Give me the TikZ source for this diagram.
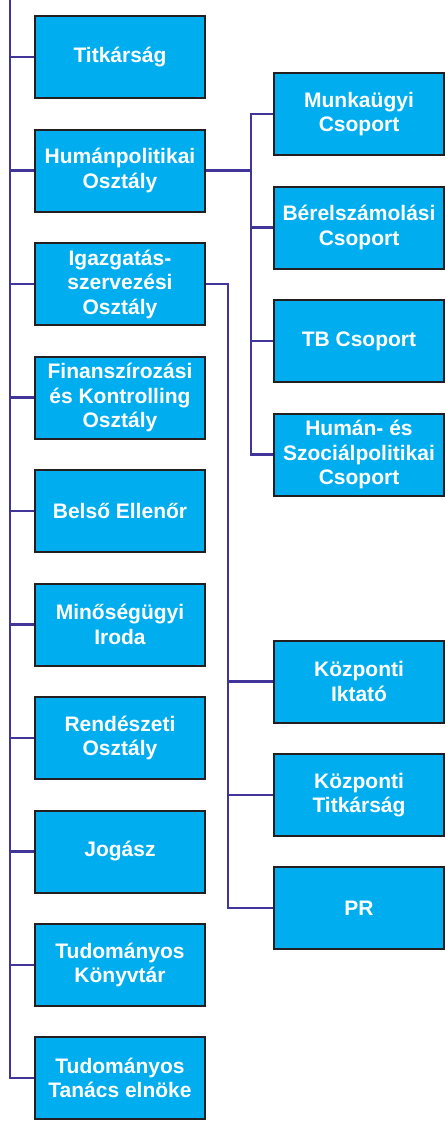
\documentclass[tikz,border=0pt]{standalone}
\usepackage{fontspec}
\setmainfont{Liberation Sans}
\usepackage{xcolor}
\usepackage{tikz}
\usetikzlibrary{positioning,calc}
\definecolor{boxblue}{HTML}{00AEEF}
\definecolor{boxline}{HTML}{231F20}
\definecolor{linkline}{HTML}{41349A}

\begin{document}
\begin{tikzpicture} [
  x=1pt, y=-1pt,
  unit box/.style= {draw=boxline,line width=2pt,fill=boxblue,text=white,
    minimum width=170pt,minimum height=82pt,inner sep=0pt,align=center,
    font=\bfseries\fontsize{21}{24.5}\selectfont},
  link/.style={draw=linkline,line width=2.3pt}
]
\useasboundingbox (0,0) rectangle (446,1124);
\coordinate (trunk) at (10,0);
\coordinate (hbus) at (251,0);
\coordinate (ibus) at (228,0);

\node (titk) [unit box] at (120,57) {Titkárság};
\node (hum) [unit box] at (120,170.5) {Humánpolitikai\\Osztály};
\node (igaz) [unit box] at (120,284) {Igazgatás-\\szervezési\\Osztály};
\node (fin) [unit box] at (120,397.5) {Finanszírozási\\és Kontrolling\\Osztály};
\node (ell) [unit box] at (120,511) {Belső Ellenőr};
\node (min) [unit box] at (120,624.5) {Minőségügyi\\Iroda};
\node (rend) [unit box] at (120,738) {Rendészeti\\Osztály};
\node (jog) [unit box] at (120,851.5) {Jogász};
\node (konyv) [unit box] at (120,965) {Tudományos\\Könyvtár};
\node (tan) [unit box] at (120,1078) {Tudományos\\Tanács elnöke};

\node (munka) [unit box] at (359,114) {Munkaügyi\\Csoport};
\node (ber) [unit box] at (359,227.5) {Bérelszámolási\\Csoport};
\node (tb) [unit box] at (359,341) {TB Csoport};
\node (szoc) [unit box] at (359,454.5) {Humán- és\\Szociálpolitikai\\Csoport};

\node (ikt) [unit box] at (359,681.5) {Központi\\Iktató};
\node (ktitk) [unit box] at (359,795) {Központi\\Titkárság};
\node (pr) [unit box] at (359,908) {PR};

\draw [link] (trunk) |- (tan.west);
\foreach \n in {titk,hum,igaz,fin,ell,min,rend,jog,konyv}
  \draw [link] (\n.west) -- (\n.west -| trunk);

\draw [link] (hum.east) -- (hum.east -| hbus);
\draw [link] (munka.west) -- (munka.west -| hbus) |- (szoc.west);
\foreach \n in {ber,tb}
  \draw [link] (\n.west) -- (\n.west -| hbus);

\draw [link] (igaz.east) -- (igaz.east -| ibus) |- (pr.west);
\foreach \n in {ikt,ktitk}
  \draw [link] (\n.west) -- (\n.west -| ibus);
\end{tikzpicture}
\end{document}
